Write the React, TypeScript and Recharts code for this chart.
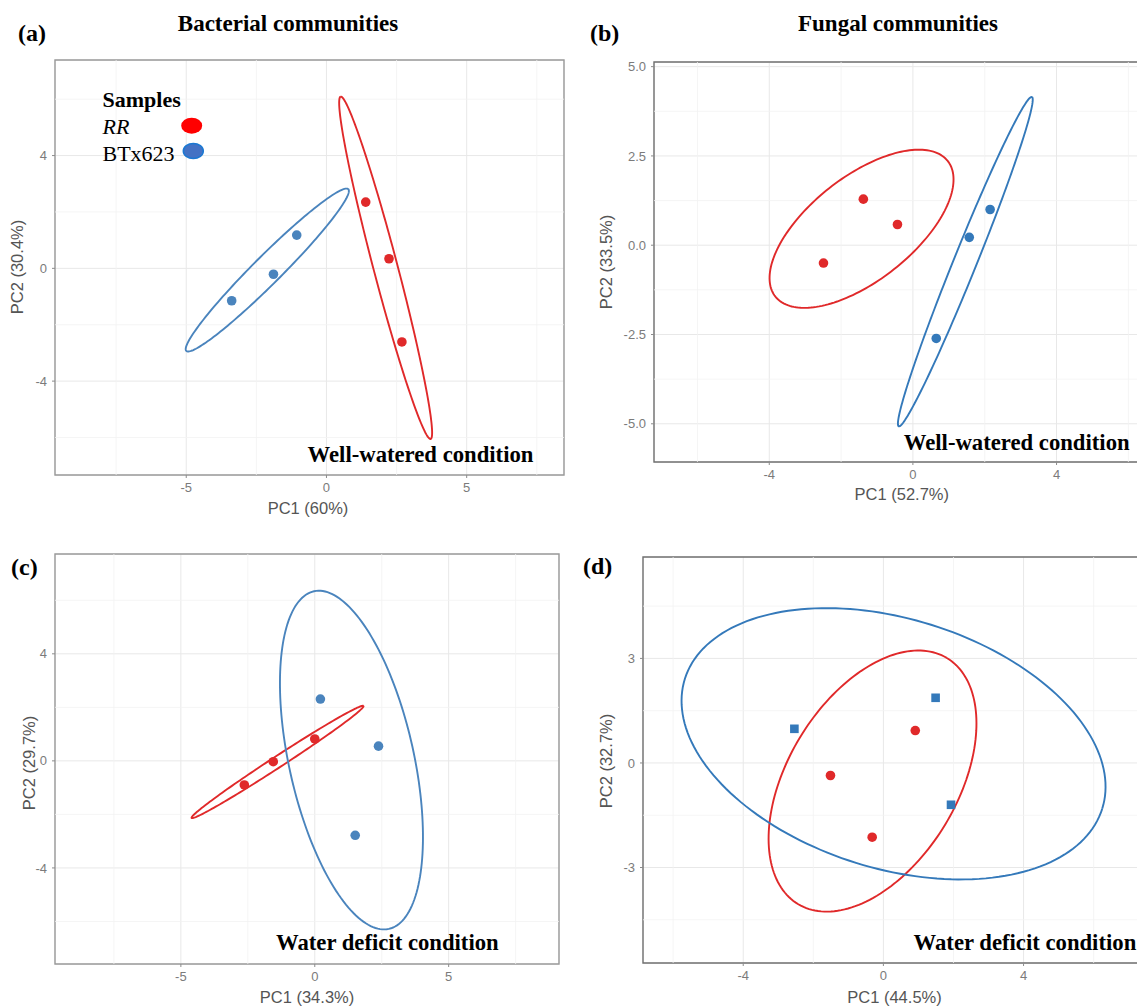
import React from 'react';
import { ScatterChart, Scatter, XAxis, YAxis, CartesianGrid, ReferenceLine, ReferenceArea } from 'recharts';

// ---------- Data ----------
// Panel (a) Bacterial, well-watered
const aRR = [{ x: 1.40, y: 2.35 }, { x: 2.23, y: 0.34 }, { x: 2.69, y: -2.61 }];
const aBTx = [{ x: -3.38, y: -1.15 }, { x: -1.89, y: -0.21 }, { x: -1.06, y: 1.18 }];
// Panel (b) Fungal, well-watered
const bRR = [{ x: -2.49, y: -0.50 }, { x: -1.38, y: 1.29 }, { x: -0.43, y: 0.58 }];
const bBTx = [{ x: 0.65, y: -2.61 }, { x: 1.57, y: 0.22 }, { x: 2.15, y: 1.00 }];
// Panel (c) Bacterial, water deficit
const cRR = [{ x: -2.63, y: -0.90 }, { x: -1.55, y: -0.03 }, { x: 0.0, y: 0.82 }];
const cBTx = [{ x: 0.21, y: 2.31 }, { x: 2.38, y: 0.55 }, { x: 1.51, y: -2.78 }];
// Panel (d) Fungal, water deficit
const dRR = [{ x: -1.51, y: -0.36 }, { x: -0.32, y: -2.13 }, { x: 0.91, y: 0.93 }];
const dBTx = [{ x: -2.54, y: 0.98 }, { x: 1.49, y: 1.87 }, { x: 1.93, y: -1.20 }];

// Confidence ellipses: centre, semi-axes (data units), rotation (deg)
const aEllipses = [
  { group: 'RR', cx: 2.11, cy: 0.02, a: 6.28, b: 0.43, angle: 104.8 },
  { group: 'BTx623', cx: -2.11, cy: -0.06, a: 4.07, b: 0.5, angle: 44.8 },
];
const bEllipses = [
  { group: 'RR', cx: -1.43, cy: 0.46, a: 3.06, b: 1.45, angle: 38.4 },
  { group: 'BTx623', cx: 1.46, cy: -0.46, a: 4.97, b: 0.32, angle: 68.1 },
];
const cEllipses = [
  { group: 'RR', cx: -1.39, cy: -0.04, a: 3.83, b: 0.21, angle: 33.1 },
  { group: 'BTx623', cx: 1.37, cy: 0.03, a: 6.46, b: 2.33, angle: -77.5 },
];
const dEllipses = [
  { group: 'RR', cx: -0.31, cy: -0.52, a: 4.12, b: 2.42, angle: 59.05 },
  { group: 'BTx623', cx: 0.29, cy: 0.55, a: 6.24, b: 3.58, angle: -17.4 },
];

// Ticks
const abcXMajor5 = [-5, 0, 5];
const abcXMinor5 = [-7.5, -2.5, 2.5, 7.5];
const acYMajor = [-4, 0, 4];
const acYMinor = [-6, -2, 2, 6];
const bdXMajor = [-4, 0, 4];
const bdXMinor = [-6, -2, 2, 6];
const bYMajor = [-5, -2.5, 0, 2.5, 5];
const bYMinor = [-3.75, -1.25, 1.25, 3.75];
const dYMajor = [-3, 0, 3];
const dYMinor = [-4.5, -1.5, 1.5, 4.5];

const RED = '#e0292a';
const BLUE = '#3479ba';
const BLUE_LIGHT = '#4a84bd';

const SANS = '"Liberation Sans", Arial, sans-serif';
const SERIF = '"Liberation Serif", "Times New Roman", serif';

function ellipsePath(e: { cx: number; cy: number; a: number; b: number; angle: number }) {
  const n = 180;
  const th = (e.angle * Math.PI) / 180;
  const out: { x: number; y: number }[] = [];
  for (let i = 0; i <= n; i++) {
    const t = (2 * Math.PI * i) / n;
    const u = e.a * Math.cos(t);
    const v = e.b * Math.sin(t);
    out.push({ x: e.cx + u * Math.cos(th) - v * Math.sin(th), y: e.cy + u * Math.sin(th) + v * Math.cos(th) });
  }
  return out;
}

const Dot = (color: string) => (p: any) => <circle cx={p.cx} cy={p.cy} r={4.8} fill={color} />;
const Sq = (color: string) => (p: any) => <rect x={p.cx - 4.3} y={p.cy - 4.3} width={8.6} height={8.6} fill={color} />;
const None = () => <g />;

type PanelProps = {
  left: number; top: number; width: number; height: number;
  margin: { top: number; right: number; bottom: number; left: number };
  xDomain: [number, number]; yDomain: [number, number];
  xMajor: number[]; xMinor: number[]; yMajor: number[]; yMinor: number[];
  yFmt?: (v: number) => string;
  rr: { x: number; y: number }[]; btx: { x: number; y: number }[];
  ellipses: { group: string; cx: number; cy: number; a: number; b: number; angle: number }[];
  blue: string; border: string; squares?: boolean;
};

function Panel(p: PanelProps) {
  const tickStyle = { fill: '#7b7b7b', fontSize: 13, fontFamily: SANS };
  return (
    <div style={{ position: 'absolute', left: p.left, top: p.top }}>
      <ScatterChart width={p.width} height={p.height} margin={p.margin}>
        <CartesianGrid stroke="#e8e8e8" strokeWidth={1} />
        {p.xMinor.map((v) => (
          <ReferenceLine key={'xm' + v} x={v} stroke="#f3f3f3" strokeWidth={0.8} />
        ))}
        {p.yMinor.map((v) => (
          <ReferenceLine key={'ym' + v} y={v} stroke="#f3f3f3" strokeWidth={0.8} />
        ))}
        <XAxis
          type="number" dataKey="x" domain={p.xDomain} allowDataOverflow ticks={p.xMajor} interval={0}
          axisLine={false} tickLine={{ stroke: '#8c8c8c' }} tickSize={3} tickMargin={5} height={25}
          tick={tickStyle}
        />
        <YAxis
          type="number" dataKey="y" domain={p.yDomain} allowDataOverflow ticks={p.yMajor} interval={0}
          axisLine={false} tickLine={{ stroke: '#8c8c8c' }} tickSize={3} tickMargin={5} width={30}
          tick={tickStyle} tickFormatter={p.yFmt}
        />
        <ReferenceArea
          x1={p.xDomain[0]} x2={p.xDomain[1]} y1={p.yDomain[0]} y2={p.yDomain[1]}
          fill="none" fillOpacity={0} stroke={p.border} strokeWidth={1.4} ifOverflow="visible"
        />
        {p.ellipses.map((e) => (
          <Scatter
            key={'e' + e.group}
            data={ellipsePath(e)}
            line={{ stroke: e.group === 'RR' ? RED : p.blue, strokeWidth: 1.9 }}
            lineType="joint"
            shape={None}
            isAnimationActive={false}
          />
        ))}
        <Scatter name="RR" data={p.rr} shape={Dot(RED)} isAnimationActive={false} />
        <Scatter name="BTx623" data={p.btx} shape={p.squares ? Sq(BLUE) : Dot(p.blue)} isAnimationActive={false} />
      </ScatterChart>
    </div>
  );
}

function T(props: { x: number; y: number; size: number; bold?: boolean; italic?: boolean; serif?: boolean; color?: string; center?: boolean; rotate?: boolean; children: React.ReactNode }) {
  const tf = props.rotate ? 'translate(-50%,-50%) rotate(-90deg)' : props.center ? 'translate(-50%,-50%)' : 'translate(0,-50%)';
  return (
    <div
      style={{
        position: 'absolute', left: props.x, top: props.y, transform: tf, whiteSpace: 'nowrap',
        fontSize: props.size, lineHeight: 1, fontWeight: props.bold ? 700 : 400,
        fontStyle: props.italic ? 'italic' : 'normal', fontFamily: props.serif ? SERIF : SANS,
        color: props.color || '#000',
      }}
    >
      {props.children}
    </div>
  );
}

export default function App() {
  return (
    <div style={{ position: 'absolute', left: 0, top: 0, width: 1137, height: 1007, overflow: 'hidden', background: '#fff' }}>
      <Panel
        left={0} top={0} width={570} height={520}
        margin={{ top: 60, right: 6, bottom: 20, left: 25 }}
        xDomain={[-9.68, 8.47]} yDomain={[-7.33, 7.39]}
        xMajor={abcXMajor5} xMinor={abcXMinor5} yMajor={acYMajor} yMinor={acYMinor}
        rr={aRR} btx={aBTx} ellipses={aEllipses} blue={BLUE_LIGHT} border="#9a9a9a"
      />
      <Panel
        left={570} top={0} width={580} height={520}
        margin={{ top: 62, right: 8, bottom: 33, left: 54 }}
        xDomain={[-7.21, 6.38]} yDomain={[-6.07, 5.13]}
        xMajor={bdXMajor} xMinor={bdXMinor} yMajor={bYMajor} yMinor={bYMinor}
        yFmt={(v: number) => v.toFixed(1)}
        rr={bRR} btx={bBTx} ellipses={bEllipses} blue={BLUE} border="#707070"
      />
      <Panel
        left={0} top={500} width={570} height={520}
        margin={{ top: 54, right: 11, bottom: 31, left: 25 }}
        xDomain={[-9.7, 9.12]} yDomain={[-7.59, 7.73]}
        xMajor={abcXMajor5} xMinor={abcXMinor5} yMajor={acYMajor} yMinor={acYMinor}
        rr={cRR} btx={cBTx} ellipses={cEllipses} blue={BLUE_LIGHT} border="#9a9a9a"
      />
      <Panel
        left={570} top={500} width={580} height={520}
        margin={{ top: 57, right: 8, bottom: 32, left: 43 }}
        xDomain={[-6.86, 7.38]} yDomain={[-5.74, 5.91]}
        xMajor={bdXMajor} xMinor={bdXMinor} yMajor={dYMajor} yMinor={dYMinor}
        rr={dRR} btx={dBTx} ellipses={dEllipses} blue={BLUE} border="#707070" squares
      />

      {/* Titles and panel letters */}
      <T x={288} y={23} size={23} bold serif center>Bacterial communities</T>
      <T x={898} y={23} size={23} bold serif center>Fungal communities</T>
      <T x={18} y={33} size={24} bold serif>(a)</T>
      <T x={590} y={33} size={24} bold serif>(b)</T>
      <T x={11} y={567} size={24} bold serif>(c)</T>
      <T x={583} y={566} size={24} bold serif>(d)</T>

      {/* Condition annotations */}
      <T x={307.6} y={455} size={22.7} bold serif>Well-watered condition</T>
      <T x={903.8} y={443} size={22.7} bold serif>Well-watered condition</T>
      <T x={276} y={943} size={22.7} bold serif>Water deficit condition</T>
      <T x={913.6} y={943} size={22.7} bold serif>Water deficit condition</T>

      {/* Axis titles */}
      <T x={308} y={508} size={16.5} color="#555" center>PC1 (60%)</T>
      <T x={16.5} y={267} size={16.5} color="#555" rotate>PC2 (30.4%)</T>
      <T x={901.8} y={494} size={16.5} color="#555" center>PC1 (52.7%)</T>
      <T x={606} y={262} size={16.5} color="#555" rotate>PC2 (33.5%)</T>
      <T x={307} y={997} size={16.5} color="#555" center>PC1 (34.3%)</T>
      <T x={29} y={763} size={16.5} color="#555" rotate>PC2 (29.7%)</T>
      <T x={894.5} y={996.7} size={16.5} color="#555" center>PC1 (44.5%)</T>
      <T x={606} y={761} size={16.5} color="#555" rotate>PC2 (32.7%)</T>

      {/* Legend in panel (a) */}
      <svg style={{ position: 'absolute', left: 0, top: 0 }} width={240} height={180}>
        <text x={102.5} y={107} fontFamily={SERIF} fontSize={22} fontWeight={700}>Samples</text>
        <text x={102.5} y={133.5} fontFamily={SERIF} fontSize={22} fontStyle="italic">RR</text>
        <text x={102.5} y={161} fontFamily={SERIF} fontSize={22}>BTx623</text>
        <ellipse cx={191.7} cy={125.7} rx={10.5} ry={8} fill="#ff0000" />
        <ellipse cx={193.3} cy={151} rx={10} ry={7.6} fill="#4472c4" stroke="#1b78d2" strokeWidth={1.5} />
      </svg>
    </div>
  );
}
